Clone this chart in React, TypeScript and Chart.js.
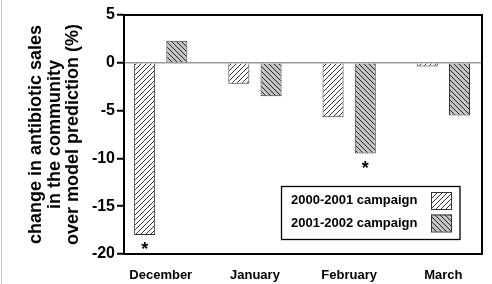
import React, { useEffect, useRef } from "react";
import { Chart, registerables } from "chart.js";

Chart.register(...registerables);

const months = ["December", "January", "February", "March"];
const campaign1Label = "2000-2001 campaign";
const campaign2Label = "2001-2002 campaign";
const campaign1 = [-18, -2.2, -5.7, -0.4];
const campaign2 = [2.3, -3.5, -9.5, -5.5];
const campaign1Significant = [true, false, false, false];
const campaign2Significant = [false, false, true, false];
const yTicks = [5, 0, -5, -10, -15, -20];
const yTitle = ["change in antibiotic sales", "in the community", "over model prediction (%)"];

const FONT = "'Liberation Sans', Arial, Helvetica, sans-serif";

function makePattern(dir: "up" | "down", bg: string, fg: string): CanvasPattern | string {
  const p = 5;
  const c = document.createElement("canvas");
  c.width = p;
  c.height = p;
  const ctx = c.getContext("2d");
  if (!ctx) return bg;
  ctx.fillStyle = bg;
  ctx.fillRect(0, 0, p, p);
  ctx.strokeStyle = fg;
  ctx.lineWidth = 1;
  ctx.beginPath();
  for (let k = -1; k <= 1; k++) {
    if (dir === "up") {
      ctx.moveTo(k * p, p);
      ctx.lineTo(k * p + p, 0);
    } else {
      ctx.moveTo(k * p, 0);
      ctx.lineTo(k * p + p, p);
    }
  }
  ctx.stroke();
  const pat = ctx.createPattern(c, "repeat");
  return pat || bg;
}

export default function App() {
  const ref = useRef<HTMLCanvasElement>(null);

  useEffect(() => {
    const canvas = ref.current;
    if (!canvas) return;
    const pat1 = makePattern("up", "#ffffff", "#333333");
    const pat2 = makePattern("down", "#c4c4c4", "#222222");

    const decor = {
      id: "decor",
      afterDatasetsDraw(chart: any) {
        const { ctx } = chart;
        ctx.save();
        ctx.fillStyle = "#000";
        ctx.font = `bold 18px ${FONT}`;
        ctx.textAlign = "center";
        ctx.textBaseline = "alphabetic";
        const m = ctx.measureText("*");
        const asc = m.actualBoundingBoxAscent;
        const desc = m.actualBoundingBoxDescent;
        const sigs = [campaign1Significant, campaign2Significant];
        sigs.forEach((sig, di) => {
          const meta = chart.getDatasetMeta(di);
          sig.forEach((s, i) => {
            if (!s) return;
            const el = meta.data[i];
            const cy = el.y + 10.5;
            ctx.fillText("*", el.x, cy + (asc - desc) / 2);
          });
        });
        ctx.restore();
      },
      afterDraw(chart: any) {
        const { ctx, chartArea } = chart;
        ctx.save();
        ctx.strokeStyle = "#000";
        ctx.lineWidth = 2;
        ctx.beginPath();
        ctx.moveTo(chartArea.left, chartArea.top);
        ctx.lineTo(chartArea.right, chartArea.top);
        ctx.lineTo(chartArea.right, chartArea.bottom);
        ctx.stroke();
        ctx.fillStyle = "#c8c8c8";
        ctx.fillRect(1, 0, 1, 284);
        const lx = 281.5, ly = 186.5, lw = 178.5, lh = 53;
        ctx.fillStyle = "#fff";
        ctx.fillRect(lx, ly, lw, lh);
        ctx.strokeStyle = "#000";
        ctx.lineWidth = 1.3;
        ctx.strokeRect(lx, ly, lw, lh);
        ctx.font = `bold 13px ${FONT}`;
        ctx.textAlign = "left";
        ctx.textBaseline = "middle";
        const entries = [
          { label: campaign1Label, pat: pat1, y: 200.5 },
          { label: campaign2Label, pat: pat2, y: 223 },
        ];
        entries.forEach((e) => {
          ctx.fillStyle = "#000";
          ctx.fillText(e.label, lx + 9.5, e.y);
          ctx.fillStyle = e.pat;
          ctx.fillRect(431, e.y - 8.5, 20.5, 17);
          ctx.strokeStyle = "#333";
          ctx.lineWidth = 1;
          ctx.strokeRect(431.5, e.y - 8, 20, 17);
        });
        ctx.restore();
      },
    };

    const chart = new Chart(canvas, {
      type: "bar",
      data: {
        datasets: [
          {
            label: campaign1Label,
            data: campaign1.map((v, i) => ({ x: i + 1, y: v })),
            backgroundColor: pat1 as any,
            borderColor: "#333",
            borderWidth: 1,
            categoryPercentage: 0.684,
            barPercentage: 0.652,
          },
          {
            label: campaign2Label,
            data: campaign2.map((v, i) => ({ x: i + 1, y: v })),
            backgroundColor: pat2 as any,
            borderColor: "#333",
            borderWidth: 1,
            categoryPercentage: 0.684,
            barPercentage: 0.652,
          },
        ],
      },
      options: {
        responsive: false,
        animation: false,
        layout: { padding: { left: 0, top: 15, right: 10, bottom: 0 } },
        plugins: { legend: { display: false }, tooltip: { enabled: false } },
        scales: {
          x: {
            type: "linear",
            offset: false,
            min: 0.61,
            max: 4.41,
            grid: { display: false, drawTicks: false, offset: false },
            border: { display: true, color: "#000", width: 2 },
            afterBuildTicks: (scale: any) => {
              scale.ticks = months.map((_, i) => ({ value: i + 1 }));
            },
            afterFit: (scale: any) => {
              scale.height = 30;
            },
            ticks: {
              autoSkip: false,
              maxRotation: 0,
              padding: 14,
              color: "#000",
              font: { family: FONT, size: 13, weight: "bold" },
              callback: (v: any) => months[Math.round(v) - 1] ?? "",
            },
          },
          y: {
            min: -20,
            max: 5,
            afterBuildTicks: (scale: any) => {
              scale.ticks = yTicks.map((v) => ({ value: v }));
            },
            afterFit: (scale: any) => {
              scale.width = 124;
            },
            grid: {
              drawOnChartArea: true,
              color: (c: any) => (c.tick && c.tick.value === 0 ? "#9a9a9a" : "rgba(0,0,0,0)"),
              lineWidth: 1.5,
              tickColor: "#000",
              tickLength: 7,
              tickWidth: 2,
            },
            border: { display: true, color: "#000", width: 2 },
            ticks: {
              padding: 2,
              color: "#000",
              font: { family: FONT, size: 16, weight: "bold" },
            },
            title: {
              display: true,
              text: yTitle,
              color: "#000",
              font: { family: FONT, size: 18, weight: "bold", lineHeight: 1.03 },
              padding: { top: 27, bottom: 0 },
            },
          },
        },
      },
      plugins: [decor],
    } as any);

    return () => chart.destroy();
  }, []);

  return (
    <div style={{ position: "absolute", left: 0, top: 0, width: 492, height: 284, background: "#fff" }}>
      <canvas ref={ref} width={492} height={284} style={{ display: "block" }} />
    </div>
  );
}
